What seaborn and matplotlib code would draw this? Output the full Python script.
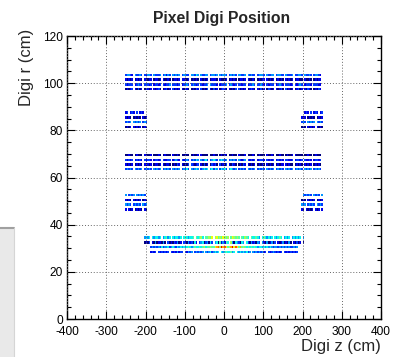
import numpy as np
import pandas as pd
import matplotlib
matplotlib.use("Agg")
import matplotlib.pyplot as plt
from matplotlib.patches import Rectangle
from matplotlib.ticker import MultipleLocator
import seaborn as sns

z_bin = 4   # cm
r_bin = 1   # cm

# every string is one ring of digis: one char per 4 cm z bin,
# '.' = no digi, hex digit = number of digis in the bin
outer_r = [103, 101, 99, 97]
outer_z0 = [-252, -252, -252, -252]
outer_rows = [
    "34432.43343.32443.43334.34243.43434.34433.44354.43344.34434.43443.34343.44334.43433.34443.43344.34433.43334.33443.43343.34432.",
    "21212.12121.21122.12212.21121.12212.22112.12121.21212.12221.21112.12121.12212.21121.12122.21212.12121.21212.12211.21121.12122.",
    "32333.23432.33323.23323.32334.33323.23343.34323.32334.43332.23334.34323.33233.23343.33432.32333.23432.33323.32343.23332.33322.",
    "12123.21312.13212.21231.12312.31212.21321.12132.31213.21312.12321.21213.31212.12321.21312.13212.21231.31212.12312.21321.12132.",
]

mid_r = [69, 67, 65, 63]
mid_z0 = [-252, -252, -252, -252]
mid_rows = [
    "11211.12111.21112.11121.12111.21121.11211.12112.21111.11211.12121.11211.21112.11121.12111.21121.11211.12112.21111.11211.12111.",
    "32323.23232.32332.23323.32233.23432.32343.34354.43453.34543.45434.34343.43234.32323.23332.32323.23232.33223.23323.32232.23323.",
    "21212.12121.21212.12212.21221.12132.21213.32123.21312.13231.31213.21321.12132.21212.12121.21212.12122.21211.12121.21212.12121.",
    "34343.43434.34343.43434.34343.43434.34353.43454.34545.45354.35453.45434.34343.43434.34343.43434.34343.43434.34343.43434.34343.",
]

inner_r = [34, 32, 30, 28]
inner_z0 = [-204, -204, -188, -188]
inner_rows = [
    "4545.54554" "5.45645.54" "5545.56545" "56.65675.6" "6768.78676" "8767.68767" "6.65765.65" "5654.56545" "45.54565.4" "545.454545.4",
    "1213.21412" "2141.31213" "2412.32142" "3152.34513" "4153.45162" "4265.74154" "3154.53142" "3143.42141" "2413.21241" "2141.21312.1",
    "3434343534" "4534543545" "4545654565" "5656756676" "689a7b9a86" "79b8a86967" "6565656545" "5454545434" "4343434343" "3434",
    "2323.32323" "23.3232423" "3.32434.34" "3434.43453" "4545.54565" "5645.54545" "4534.43434" "3423.32343" "2323.32323" "2323",
]

ring_hi_r = [87, 85, 83, 81, 87, 85, 83, 81]
ring_hi_z0 = [-252, -252, -252, -252, 196, 196, 196, 196]
ring_hi_rows = [
    "23.232.3.232..",
    "2121.12121.212",
    "3434.43434.343",
    "1212.21212.121",
    "..232.3.232.23",
    "212.12121.1212",
    "343.43434.4343",
    "121.21212.2121",
]

ring_lo_r = [52, 50, 48, 46, 52, 50, 48, 46]
ring_lo_z0 = [-252, -252, -252, -252, 196, 196, 196, 196]
ring_lo_rows = [
    "4.3434.434343.",
    "2121.21212.121",
    "4343.34343.434",
    "2.212.12121.21",
    ".434343.4343.4",
    "121.21212.1212",
    "434.34343.4343",
    "21.21212.212.2",
]


def digis(r_list, z0_list, rows):
    out = []
    for r, z0, row in zip(r_list, z0_list, rows):
        for i, ch in enumerate(row):
            if ch != ".":
                out.append((z0 + (i + 0.5) * z_bin, r + 0.5 * r_bin, int(ch, 16)))
    return out


records = (digis(outer_r, outer_z0, outer_rows) + digis(mid_r, mid_z0, mid_rows)
           + digis(inner_r, inner_z0, inner_rows) + digis(ring_hi_r, ring_hi_z0, ring_hi_rows)
           + digis(ring_lo_r, ring_lo_z0, ring_lo_rows))
df = pd.DataFrame(records, columns=["z", "r", "n"])

sns.set_style("ticks")
plt.rcParams["font.family"] = ["Liberation Sans", "DejaVu Sans"]
plt.rcParams["axes.unicode_minus"] = False

fig = plt.figure(figsize=(3.93, 3.57), dpi=100)
ax = fig.add_axes([67 / 393, 38 / 357, 314 / 393, 283 / 357])

sns.histplot(data=df, x="z", y="r", weights="n",
             bins=[np.arange(-400, 401, z_bin), np.arange(0, 121, r_bin)],
             cmap=matplotlib.colormaps["jet"], vmin=1, vmax=12, cbar=False, ax=ax)

ax.set_xlim(-400, 400)
ax.set_ylim(0, 120)
ax.set_xlabel("")
ax.set_ylabel("")
ax.xaxis.set_major_locator(MultipleLocator(100))
ax.xaxis.set_minor_locator(MultipleLocator(20))
ax.yaxis.set_major_locator(MultipleLocator(20))
ax.yaxis.set_minor_locator(MultipleLocator(5))
ax.tick_params(which="both", direction="in", top=True, right=True,
               labelsize=8.6, colors="black", width=0.8)
ax.tick_params(which="major", length=6)
ax.tick_params(which="minor", length=3)
ax.tick_params(axis="x", pad=5)
ax.tick_params(axis="y", pad=3)
ax.grid(True, which="major", linestyle=(0, (1, 2)), color="0.4", linewidth=0.7)
ax.set_axisbelow(False)
for s in ax.spines.values():
    s.set_color("black")
    s.set_linewidth(1.0)

fig.text(222 / 393, 1 - 18.5 / 357, "Pixel Digi Position", ha="center", va="center",
         fontsize=11.3, fontweight="bold")
fig.text(27 / 393, 1 - 29 / 357, "Digi r (cm)", ha="center", va="top",
         rotation=90, fontsize=12)
fig.text(381 / 393, 1 - 347 / 357, "Digi z (cm)", ha="right", va="center", fontsize=12)

# grey panel edge peeking in at the lower left
fig.patches.append(Rectangle((0, 0), 14 / 393, 129 / 357, transform=fig.transFigure,
                             facecolor="#e9e9e9", edgecolor="none"))
fig.add_artist(plt.Line2D([0, 14 / 393], [129 / 357, 129 / 357], transform=fig.transFigure,
                          color="#a0a0a0", linewidth=1.5))
fig.add_artist(plt.Line2D([14 / 393, 14 / 393], [0, 129 / 357], transform=fig.transFigure,
                          color="#d5d5d5", linewidth=0.8))

fig.savefig("out.png", dpi=100)
